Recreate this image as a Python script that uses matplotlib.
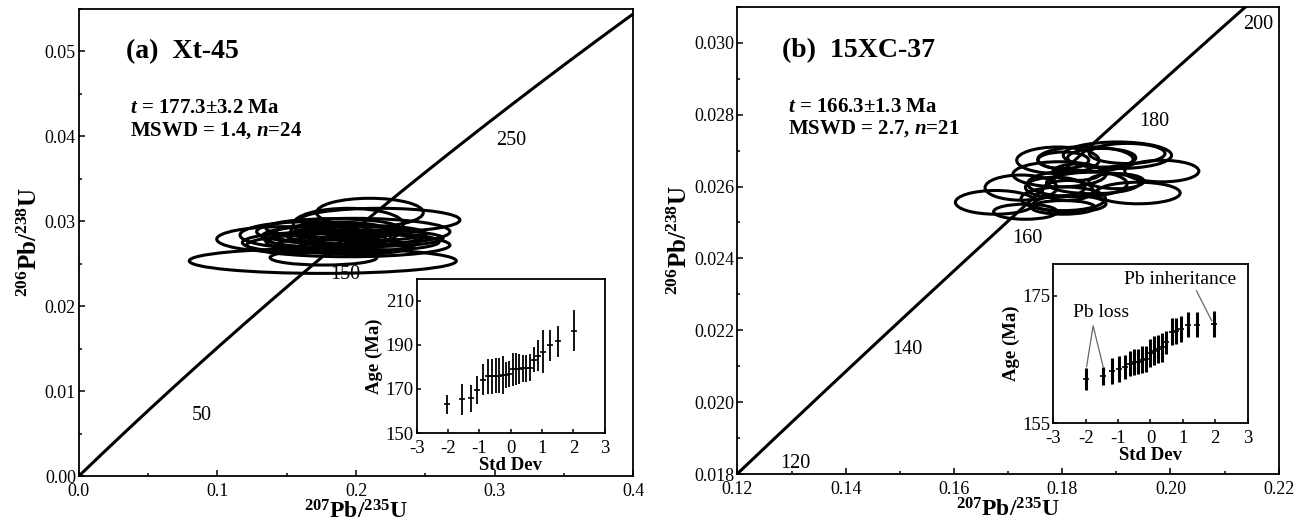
import numpy as np
import matplotlib
matplotlib.use("Agg")
import matplotlib.pyplot as plt
from matplotlib.patches import Ellipse
from matplotlib.ticker import MultipleLocator, FormatStrFormatter


plt.rcParams['font.family'] = ['Liberation Serif', 'DejaVu Serif']
plt.rcParams['axes.unicode_minus'] = False
plt.rcParams['mathtext.fontset'] = 'custom'
plt.rcParams['mathtext.rm'] = 'Liberation Serif:bold'
plt.rcParams['mathtext.bf'] = 'Liberation Serif:bold'
plt.rcParams['mathtext.it'] = 'Liberation Serif:italic:bold'

# U decay constants (1/yr)
L235 = 9.8485e-10
L238 = 1.55125e-10

# (a) Xt-45 error ellipses: centre x, centre y, half width, half height
a_x = [0.176, 0.210, 0.2172, 0.1475, 0.1656, 0.198, 0.1765, 0.1944, 0.2075, 0.1944, 0.185, 0.180,
       0.200, 0.190, 0.172, 0.205, 0.188, 0.178, 0.195, 0.183, 0.215, 0.168, 0.199, 0.186]
a_y = [0.02534, 0.03104, 0.03015, 0.0279, 0.02838, 0.02878, 0.02573, 0.0272, 0.0280, 0.02966, 0.0285, 0.0278,
       0.0283, 0.0276, 0.0282, 0.0286, 0.0289, 0.0272, 0.0281, 0.0292, 0.0276, 0.0275, 0.0270, 0.0280]
a_sx = [0.0963, 0.0385, 0.0577, 0.048, 0.0493, 0.0697, 0.0385, 0.0733, 0.0553, 0.0397, 0.045, 0.042,
        0.050, 0.055, 0.040, 0.045, 0.035, 0.035, 0.030, 0.048, 0.045, 0.050, 0.040, 0.025]
a_sy = [0.00147, 0.00167, 0.00138, 0.00147, 0.00157, 0.00157, 0.00088, 0.00137, 0.00098, 0.00187, 0.0012, 0.0011,
        0.0011, 0.0013, 0.0012, 0.0009, 0.0010, 0.0009, 0.0008, 0.0011, 0.0010, 0.0012, 0.0009, 0.0007]

# (b) 15XC-37 error ellipses
b_x = [0.1677, 0.1732, 0.1724, 0.1984, 0.1940, 0.1792, 0.1902, 0.1920, 0.1843, 0.1795, 0.1828,
       0.1802, 0.1814, 0.1857, 0.1828, 0.1802, 0.1787, 0.1873, 0.1900, 0.1810, 0.1802]
b_y = [0.02556, 0.02530, 0.02597, 0.02643, 0.02582, 0.02673, 0.02687, 0.02692, 0.02676, 0.02634, 0.02608,
       0.02566, 0.02552, 0.02610, 0.02640, 0.02673, 0.02598, 0.02680, 0.02615, 0.02589, 0.02542]
b_sx = [0.00743, 0.00587, 0.00665, 0.00685, 0.0078, 0.0076, 0.0100, 0.0070, 0.0088, 0.0086, 0.0092,
        0.0078, 0.0067, 0.0086, 0.0045, 0.0047, 0.0055, 0.0063, 0.0051, 0.0047, 0.0059]
b_sy = [0.00033, 0.00021, 0.00035, 0.00030, 0.00030, 0.00037, 0.00037, 0.00028, 0.00035, 0.00035, 0.00037,
        0.00033, 0.00023, 0.00030, 0.00023, 0.00023, 0.00028, 0.00026, 0.00021, 0.00028, 0.00019]

# concordia age marks
a_marks = [50, 150, 250]
b_marks = [120, 140, 160, 180, 200]

# inset data: std dev vs age (Ma) with 2-sigma error
a_sd = [-2.045, -1.545, -1.27, -1.07, -0.90, -0.74, -0.61, -0.48, -0.38, -0.26, -0.15, -0.06,
        0.06, 0.16, 0.26, 0.38, 0.48, 0.61, 0.74, 0.87, 1.03, 1.25, 1.52, 2.01]
a_age = [163.1, 165.4, 165.7, 169.5, 174.2, 175.7, 175.7, 176.0, 176.0, 176.3, 176.3, 176.7,
         179.0, 179.0, 179.0, 179.3, 179.3, 179.7, 183.2, 185.0, 186.8, 189.8, 191.5, 196.3]
a_err = [4.3, 7.0, 6.2, 6.5, 7.0, 8.0, 8.0, 8.0, 7.8, 8.5, 6.0, 6.0,
         7.5, 7.3, 6.8, 6.2, 6.0, 6.0, 5.6, 7.0, 9.8, 7.0, 7.0, 9.3]

b_sd = [-1.99, -1.475, -1.18, -0.97, -0.79, -0.63, -0.51, -0.385, -0.26, -0.14, -0.016,
        0.11, 0.22, 0.36, 0.48, 0.65, 0.79, 0.93, 1.17, 1.43, 1.96]
b_age = [162.0, 162.4, 163.2, 163.5, 163.8, 164.35, 164.6, 164.7, 165.0, 165.1, 166.1,
         166.4, 166.7, 166.9, 167.7, 169.4, 169.5, 169.8, 170.5, 170.5, 170.6]
b_err = [1.7, 1.4, 2.0, 2.0, 1.9, 2.0, 2.0, 2.0, 2.1, 2.1, 2.2,
         2.25, 2.2, 2.25, 1.8, 2.15, 2.0, 2.1, 2.0, 1.95, 2.1]


def concordia(t_ma):
    t = np.asarray(t_ma, dtype=float) * 1e6
    return np.exp(L235 * t) - 1, np.exp(L238 * t) - 1


def style_axes(ax, tick_size=13, xpad=5):
    ax.tick_params(which='both', direction='in', top=False, right=False, labelsize=tick_size, pad=2)
    ax.tick_params(axis='x', which='both', pad=xpad)
    ax.tick_params(which='major', length=4, width=1.1)
    ax.tick_params(which='minor', length=2.5, width=1.1)
    for s in ax.spines.values():
        s.set_linewidth(1.3)


def main_panel(ax, ex, ey, esx, esy, marks, offsets, xlim, ylim, xmaj, xmin, ymaj, ymin, fx, fy):
    t = np.linspace(0, 400, 400)
    cx, cy = concordia(t)
    ax.plot(cx, cy, color='k', lw=2.2, zorder=2)
    for x, y, sx, sy in zip(ex, ey, esx, esy):
        ax.add_patch(Ellipse((x, y), 2 * sx, 2 * sy, fill=False, ec='k', lw=2.2, zorder=4))
    mx, my = concordia(marks)
    for m, x, y, off in zip(marks, mx, my, offsets):
        ax.annotate(str(m), (x, y), xytext=(off[0] * 0.72, off[1] * 0.72), textcoords='offset points',
                    ha='center', va='center', fontsize=14.5, zorder=3, annotation_clip=False)
    ax.set_xlim(*xlim)
    ax.set_ylim(*ylim)
    ax.xaxis.set_major_locator(MultipleLocator(xmaj))
    ax.xaxis.set_minor_locator(MultipleLocator(xmin))
    ax.yaxis.set_major_locator(MultipleLocator(ymaj))
    ax.yaxis.set_minor_locator(MultipleLocator(ymin))
    ax.xaxis.set_major_formatter(FormatStrFormatter(fx))
    ax.yaxis.set_major_formatter(FormatStrFormatter(fy))
    style_axes(ax)
    ax.set_xlabel(r'$^{207}$Pb/$^{235}$U', fontsize=17, fontweight='bold', labelpad=0)
    ax.set_ylabel(r'$^{206}$Pb/$^{238}$U', fontsize=18, fontweight='bold', labelpad=2)


def inset_panel(ax, sd, age, err, ylim, yticks, lw):
    ax.errorbar(sd, age, yerr=err, fmt='none', ecolor='k', elinewidth=lw, zorder=2)
    ax.plot(sd, age, marker='_', ls='none', color='k', ms=4, mew=1.2, zorder=3)
    ax.set_xlim(-3, 3)
    ax.set_ylim(*ylim)
    ax.set_xticks([-3, -2, -1, 0, 1, 2, 3])
    ax.set_yticks(yticks)
    style_axes(ax, tick_size=13.5, xpad=5)
    ax.tick_params(which='major', length=3)
    ax.set_xlabel('Std Dev', fontsize=13.5, fontweight='bold', labelpad=0)
    ax.set_ylabel('Age (Ma)', fontsize=13.5, fontweight='bold', labelpad=2)


fig = plt.figure(figsize=(13.04, 5.25), dpi=100)

# panel (a)
ax1 = fig.add_axes([0.0604, 0.093, 0.4253, 0.890])
main_panel(ax1, a_x, a_y, a_sx, a_sy, a_marks, [(53, -5), (46, 2), (45, 0)],
           (0, 0.4), (0, 0.055), 0.1, 0.05, 0.01, 0.005, '%.1f', '%.2f')
ax1.text(0.085, 0.908, '(a)  Xt-45', transform=ax1.transAxes, fontsize=20, fontweight='bold', va='center')
ax1.text(0.093, 0.788, r'$t$ = 177.3±3.2 Ma', transform=ax1.transAxes, fontsize=15, fontweight='bold', va='center')
ax1.text(0.093, 0.739, r'MSWD = 1.4, $n$=24', transform=ax1.transAxes, fontsize=15, fontweight='bold', va='center')

ins1 = fig.add_axes([0.3196, 0.175, 0.1442, 0.2945])
inset_panel(ins1, a_sd, a_age, a_err, (150, 220), [150, 170, 190, 210], 1.3)

# panel (b)
ax2 = fig.add_axes([0.5655, 0.097, 0.4151, 0.890])
main_panel(ax2, b_x, b_y, b_sx, b_sy, b_marks, [(28, -18), (19, -18), (16, -21), (17, -18), (-8, -36)],
           (0.12, 0.22), (0.018, 0.031), 0.02, 0.01, 0.002, 0.001, '%.2f', '%.3f')
ax2.text(0.082, 0.907, '(b)  15XC-37', transform=ax2.transAxes, fontsize=20, fontweight='bold', va='center')
ax2.text(0.094, 0.786, r'$t$ = 166.3±1.3 Ma', transform=ax2.transAxes, fontsize=15, fontweight='bold', va='center')
ax2.text(0.094, 0.740, r'MSWD = 2.7, $n$=21', transform=ax2.transAxes, fontsize=15, fontweight='bold', va='center')

ins2 = fig.add_axes([0.8077, 0.1937, 0.1491, 0.3034])
inset_panel(ins2, b_sd, b_age, b_err, (155, 180), [155, 175], 2.2)
ins2.plot([-1.97, -1.77, -1.46], [163.9, 170.3, 163.9], color='0.4', lw=0.9)
ins2.text(-1.51, 172.4, 'Pb loss', fontsize=14, ha='center', va='center')
ins2.plot([1.42, 1.89], [175.8, 171.1], color='0.4', lw=0.9)
ins2.text(0.91, 177.6, 'Pb inheritance', fontsize=14, ha='center', va='center')

fig.savefig('out.png', dpi=100)
